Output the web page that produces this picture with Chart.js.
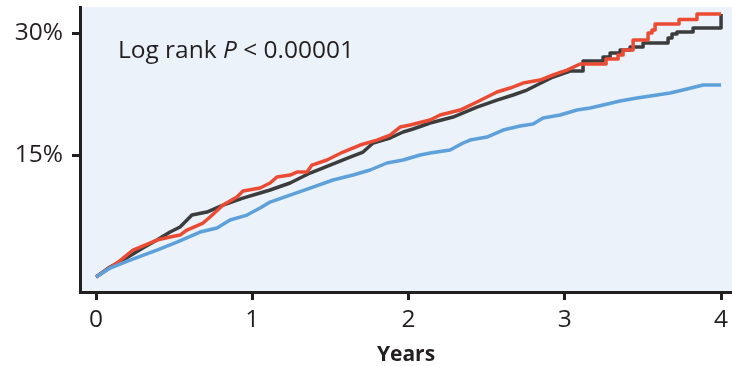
<!DOCTYPE html>
<html><head><meta charset="utf-8">
<script src="https://cdn.jsdelivr.net/npm/chart.js@4/dist/chart.umd.min.js"></script>
<style>html,body{margin:0;padding:0;background:#fff}#wrap{width:732px;height:366px}</style>
</head><body><div id="wrap"><canvas id="c" width="732" height="366"></canvas></div>
<script>
const xTicks = [0, 1, 2, 3, 4];
const yTicks = [15, 30];
const xTitle = 'Years';
const noteParts = ['Log rank ', 'P', ' < 0.00001'];

const blueYears = [0,0.09,0.218,0.39,0.518,0.666,0.774,0.858,0.966,1.05,1.114,1.242,1.37,1.517,1.645,1.754,1.862,1.965,2.074,2.138,2.266,2.349,2.394,2.502,2.605,2.714,2.797,2.861,2.97,3.078,3.162,3.245,3.354,3.462,3.59,3.674,3.782,3.885,4.0];
const bluePct   = [0,1.11,2.09,3.32,4.30,5.53,6.02,7.01,7.62,8.48,9.22,10.08,10.94,11.93,12.54,13.16,14.02,14.39,15.0,15.25,15.62,16.48,16.84,17.21,18.07,18.57,18.81,19.55,19.92,20.53,20.78,21.15,21.64,22.01,22.38,22.62,23.12,23.61,23.61];

const redYears = [0,0.134,0.237,0.39,0.474,0.538,0.582,0.685,0.73,0.813,0.902,0.941,1.05,1.114,1.158,1.242,1.286,1.35,1.382,1.478,1.581,1.69,1.798,1.882,1.946,2.01,2.138,2.202,2.33,2.438,2.566,2.65,2.733,2.842,2.925,3.014,3.098,3.264,3.264,3.341,3.341,3.373,3.373,3.437,3.437,3.533,3.533,3.558,3.558,3.578,3.578,3.731,3.731,3.846,3.846,4.0];
const redPct   = [0,1.72,3.32,4.55,4.92,5.16,5.78,6.64,7.38,8.85,9.84,10.57,10.94,11.56,12.30,12.54,12.91,12.91,13.77,14.39,15.37,16.23,16.84,17.46,18.44,18.69,19.30,19.92,20.53,21.52,22.75,23.24,23.85,24.22,24.84,25.45,26.19,26.19,26.80,26.80,27.30,27.30,27.91,27.91,29.14,29.14,30.0,30.0,30.37,30.37,31.11,31.11,31.66,31.66,32.34,32.34];

const blackYears = [0,0.09,0.173,0.30,0.39,0.474,0.538,0.614,0.71,0.813,0.94,1.05,1.114,1.242,1.37,1.498,1.626,1.709,1.773,1.882,1.965,2.029,2.138,2.285,2.438,2.566,2.669,2.758,2.822,2.925,3.034,3.117,3.117,3.245,3.245,3.29,3.29,3.354,3.354,3.418,3.418,3.501,3.501,3.661,3.661,3.686,3.686,3.718,3.718,3.821,3.821,4.0,4.0];
const blackPct   = [0,1.23,2.09,3.57,4.55,5.53,6.15,7.63,7.99,8.85,9.71,10.33,10.70,11.56,12.79,13.77,14.75,15.37,16.48,17.09,17.83,18.20,18.94,19.67,20.90,21.76,22.38,22.99,23.61,24.59,25.33,25.33,26.56,26.56,27.05,27.05,27.54,27.54,27.91,27.91,28.28,28.28,28.77,28.77,29.39,29.39,29.88,29.88,30.12,30.12,30.62,30.62,32.34];

const INK = '#231f20';
const FONT = '"Open Sans", sans-serif';

function pts(xs, ys) { return xs.map((x, i) => ({ x: x, y: ys[i] })); }

const bgPlugin = {
  id: 'bg',
  beforeDraw(chart) {
    const { ctx, chartArea: a } = chart;
    ctx.save();
    ctx.fillStyle = '#EBF2FA';
    ctx.fillRect(a.left, a.top, a.right - a.left, a.bottom - a.top);
    ctx.restore();
  }
};
const notePlugin = {
  id: 'note',
  afterDraw(chart) {
    const ctx = chart.ctx;
    const xs = chart.scales.x, ys = chart.scales.y;
    let x = xs.getPixelForValue(0.14);
    const y = ys.getPixelForValue(26.95);
    ctx.save();
    ctx.fillStyle = INK;
    ctx.textBaseline = 'alphabetic';
    noteParts.forEach((t, i) => {
      ctx.font = (i === 1 ? 'italic ' : '') + '500 24.5px ' + FONT;
      ctx.fillText(t, x, y);
      x += ctx.measureText(t).width;
    });
    ctx.restore();
  }
};

const line = (label, xs, ys, color) => ({
  label, data: pts(xs, ys), borderColor: color, borderWidth: 3.5,
  pointRadius: 0, tension: 0, fill: false, borderJoinStyle: 'round', borderCapStyle: 'butt'
});

new Chart(document.getElementById('c'), {
  type: 'line',
  data: {
    datasets: [
      line('Blue', blueYears, bluePct, '#5DA0DA'),
      line('Red', redYears, redPct, '#EC4B33'),
      line('Black', blackYears, blackPct, '#3C3C3C')
    ]
  },
  options: {
    responsive: false,
    animation: false,
    events: [],
    layout: { padding: { top: 7, right: 0, left: 0, bottom: 0 } },
    plugins: { legend: { display: false }, tooltip: { enabled: false } },
    scales: {
      x: {
        type: 'linear', min: -0.1024, max: 4.07,
        afterBuildTicks(s) { s.ticks = xTicks.map(v => ({ value: v })); },
        afterFit(s) { s.height = 74; s.paddingLeft = 0; s.paddingRight = 0; },
        ticks: { color: INK, font: { family: FONT, size: 24.5, weight: 500 }, padding: 5, maxRotation: 0, autoSkip: false },
        grid: { drawOnChartArea: false, drawTicks: true, tickLength: 8, lineWidth: 3, color: INK },
        border: { display: true, width: 3, color: INK },
        title: { display: true, text: xTitle, color: INK, font: { family: FONT, size: 21, weight: 'bold' }, padding: { top: 0, bottom: -2 } }
      },
      y: {
        type: 'linear', min: -1.84, max: 33.2,
        afterBuildTicks(s) { s.ticks = yTicks.map(v => ({ value: v })); },
        afterFit(s) { s.width = 80; s.paddingTop = 0; s.paddingBottom = 0; },
        ticks: { color: INK, font: { family: FONT, size: 24.5, weight: 500 }, padding: 9, callback: v => v + '%' },
        grid: { drawOnChartArea: false, drawTicks: true, tickLength: 8, lineWidth: 3, color: INK },
        border: { display: true, width: 3, color: INK }
      }
    }
  },
  plugins: [bgPlugin, notePlugin]
});
</script>
</body></html>
